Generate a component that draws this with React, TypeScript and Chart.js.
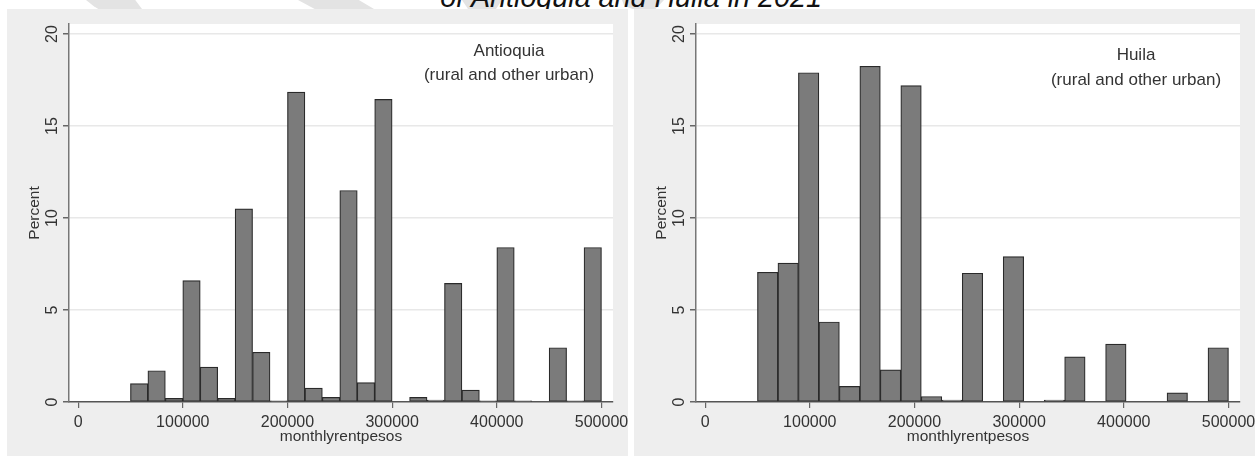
import React, { useEffect, useRef } from 'react';
import { Chart, registerables } from 'chart.js';

Chart.register(...registerables);
Chart.defaults.font.family = "'Liberation Sans', Arial, sans-serif";

// Histogram bin heights (percent), bins evenly spaced between binRange[0] and binRange[1]
const antioquiaPercent = [
  1.0, 1.7, 0.2, 6.6, 1.9, 0.2, 10.5, 2.7, 0.06, 16.85, 0.75, 0.25, 11.5, 1.05,
  16.45, 0, 0.25, 0.1, 6.45, 0.65, 0.06, 8.4, 0.06, 0, 2.95, 0.06, 8.4,
];
const huilaPercent = [
  7.05, 7.55, 17.9, 4.35, 0.85, 18.25, 1.75, 17.2, 0.3, 0.1, 7.0, 0, 7.9, 0, 0.1,
  2.45, 0, 3.15, 0, 0, 0.5, 0, 2.95,
];
const binRange = [50000, 500000];
const xTickValues = [0, 100000, 200000, 300000, 400000, 500000];
const yTickValues = [0, 5, 10, 15, 20];
const panelNames = ['Antioquia', 'Huila'];
const panelSubtitle = '(rural and other urban)';
const xTitle = 'monthlyrentpesos';
const yTitle = 'Percent';
const headingText = 'of Antioquia and Huila in 2021';

function toBins(values: number[]) {
  const w = (binRange[1] - binRange[0]) / values.length;
  return values.map((v, i) => ({ x: binRange[0] + (i + 0.5) * w, y: v }));
}

const bgPlugin = {
  id: 'panelBg',
  beforeDraw(chart: any) {
    const { ctx, chartArea: a, width, height } = chart;
    ctx.save();
    ctx.fillStyle = '#eeeeee';
    ctx.fillRect(0, 0, width, height);
    ctx.fillStyle = '#ffffff';
    ctx.fillRect(a.left, a.top, a.right - a.left, a.bottom - a.top);
    ctx.restore();
  },
};

const notePlugin = {
  id: 'panelNote',
  afterDatasetsDraw(chart: any, _args: any, opts: any) {
    const { ctx } = chart;
    ctx.save();
    ctx.fillStyle = '#333333';
    ctx.font = "17px 'Liberation Sans', Arial, sans-serif";
    ctx.textAlign = 'center';
    ctx.textBaseline = 'middle';
    (opts.lines || []).forEach((t: string, i: number) => {
      ctx.fillText(t, opts.x, opts.y[i]);
    });
    ctx.restore();
  },
};

const W = 621;
const H = 447;

function Panel(props: { values: number[]; name: string; left: number; noteY: number[] }) {
  const ref = useRef<HTMLCanvasElement>(null);
  useEffect(() => {
    const chart = new Chart(ref.current as HTMLCanvasElement, {
      type: 'bar',
      data: {
        datasets: [
          {
            data: toBins(props.values) as any,
            backgroundColor: '#7b7b7b',
            borderColor: '#2a2a2a',
            borderWidth: 1.2,
            borderSkipped: false,
            barPercentage: 1,
            categoryPercentage: 1,
            grouped: false,
          } as any,
        ],
      },
      options: {
        animation: false,
        responsive: false,
        devicePixelRatio: 1,
        layout: { padding: { left: 0, top: 15, right: 15, bottom: 0 } },
        plugins: {
          legend: { display: false },
          tooltip: { enabled: false },
          panelNote: { lines: [props.name, panelSubtitle], x: 502, y: props.noteY },
        } as any,
        scales: {
          x: {
            type: 'linear',
            min: -8700,
            max: 511000,
            offset: false,
            afterBuildTicks: (s: any) => {
              s.ticks = xTickValues.map((v) => ({ value: v }));
            },
            afterFit: (s: any) => {
              s.height = 54;
              s.paddingLeft = 0;
              s.paddingRight = 0;
            },
            grid: {
              display: true,
              offset: false,
              drawOnChartArea: false,
              drawTicks: true,
              tickLength: 6,
              tickColor: '#666666',
              lineWidth: 1.2,
            },
            border: { display: true, color: '#555555', width: 1.5 },
            ticks: {
              padding: 5,
              color: '#333333',
              font: { size: 16 },
              autoSkip: false,
              maxRotation: 0,
              callback: (v: any) => String(v),
            },
            title: {
              display: true,
              text: xTitle,
              color: '#333333',
              font: { size: 15.5 },
              padding: { top: 0, bottom: 10 },
            },
          },
          y: {
            type: 'linear',
            min: 0,
            max: 20.55,
            afterBuildTicks: (s: any) => {
              s.ticks = yTickValues.map((v) => ({ value: v }));
            },
            afterFit: (s: any) => {
              s.width = 62;
              s.paddingTop = 0;
              s.paddingBottom = 0;
            },
            grid: {
              color: (c: any) => (c.tick && c.tick.value === 0 ? 'rgba(0,0,0,0)' : '#e8e8e8'),
              lineWidth: 1.5,
              tickColor: '#666666',
              tickLength: 6,
              drawTicks: true,
            },
            border: { display: true, color: '#777777', width: 1.5 },
            ticks: {
              padding: 2,
              color: '#333333',
              font: { size: 16 },
              minRotation: 90,
              maxRotation: 90,
              crossAlign: 'center',
              callback: (v: any) => String(v),
            },
            title: {
              display: true,
              text: yTitle,
              color: '#333333',
              font: { size: 15.5 },
              padding: { top: 18.7, bottom: 0 },
            },
          },
        },
      } as any,
      plugins: [bgPlugin, notePlugin],
    });
    return () => chart.destroy();
  }, []);
  return (
    <canvas
      ref={ref}
      width={W}
      height={H}
      style={{ position: 'absolute', left: props.left, top: 9, width: W, height: H }}
    />
  );
}

const shapeStyle = (left: number, width: number, poly: string): React.CSSProperties => ({
  position: 'absolute',
  left,
  top: 0,
  width,
  height: 9,
  background: '#e3e3e3',
  clipPath: poly,
});

export default function App() {
  return (
    <div
      style={{
        position: 'absolute',
        left: 0,
        top: 0,
        width: 1258,
        height: 456,
        overflow: 'hidden',
        background: '#ffffff',
      }}
    >
      <div style={shapeStyle(86, 56, 'polygon(0% 0%, 88% 0%, 100% 100%, 22% 100%, 14% 70%)')} />
      <div style={shapeStyle(298, 76, 'polygon(0% 0%, 80% 0%, 100% 100%, 22% 100%)')} />
      <div style={shapeStyle(462, 40, 'polygon(0% 0%, 100% 0%, 85% 100%, 15% 100%)')} />
      <div style={shapeStyle(622, 42, 'polygon(0% 0%, 100% 0%, 80% 100%, 25% 100%, 5% 60%)')} />
      <svg
        width={1258}
        height={9}
        style={{ position: 'absolute', left: 0, top: 0, overflow: 'hidden' }}
      >
        <text
          x={631}
          y={7}
          textAnchor="middle"
          fontFamily="'Liberation Sans', Arial, sans-serif"
          fontStyle="italic"
          fontSize={28.7}
          fill="#111111"
        >
          {headingText}
        </text>
      </svg>
      <Panel values={antioquiaPercent} name={panelNames[0]} left={7} noteY={[42, 66]} />
      <Panel values={huilaPercent} name={panelNames[1]} left={634} noteY={[46, 71]} />
    </div>
  );
}
